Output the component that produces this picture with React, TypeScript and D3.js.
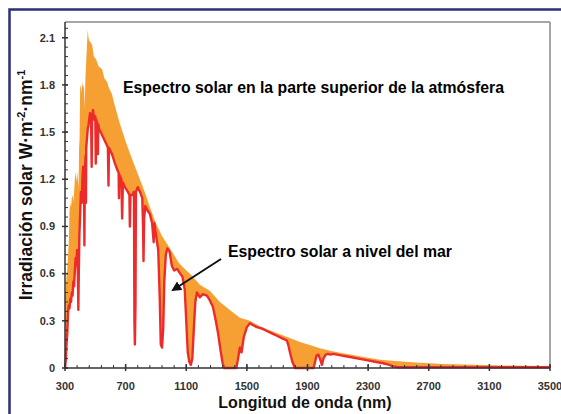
import * as d3 from "d3";

// Espectro fuera de la atmósfera (naranja)
const toaWavelength = [
  300, 305, 310, 315, 320, 325, 330, 335, 340, 345, 350, 355, 360, 365, 370, 375, 380, 385, 390, 393,
  396, 400, 405, 410, 415, 420, 425, 430, 435, 440, 445, 450, 455, 460, 470, 480, 490, 500, 510, 520,
  530, 545, 560, 577, 590, 610, 625, 643, 660, 680, 700, 730, 762, 790, 810, 830, 861, 900, 940, 993,
  1050, 1100, 1125, 1190, 1257, 1322, 1400, 1454, 1520, 1586, 1650, 1718, 1784, 1850, 1920, 1982,
  2050, 2114, 2200, 2290, 2378, 2500, 2642, 2800, 3000, 3200, 3500,
];
const toaIrradiance = [
  0.45, 0.5, 0.58, 0.62, 0.72, 0.8, 1.0, 1.05, 1.02, 1.08, 1.1, 1.05, 1.12, 1.2, 1.25, 1.18, 1.25, 1.2, 1.15, 1.4,
  1.45, 1.78, 1.8, 1.75, 1.82, 1.78, 1.8, 1.65, 1.85, 1.95, 2.05, 2.15, 2.1, 2.08, 2.07, 2.05, 1.98, 1.97, 1.95, 1.92,
  1.91, 1.9, 1.84, 1.82, 1.78, 1.74, 1.68, 1.62, 1.56, 1.5, 1.44, 1.36, 1.28, 1.21, 1.16, 1.11, 1.02, 0.92, 0.84, 0.76,
  0.67, 0.62, 0.6, 0.53, 0.49, 0.42, 0.36, 0.32, 0.3, 0.265, 0.24, 0.215, 0.19, 0.165, 0.145, 0.125,
  0.11, 0.097, 0.082, 0.066, 0.053, 0.043, 0.033, 0.026, 0.02, 0.016, 0.013,
];

// Espectro a nivel del mar (rojo)
const seaWavelength = [
  300, 305, 310, 315, 320, 325, 330, 335, 340, 345, 350, 355, 360, 365, 370, 375, 380, 385, 388, 391,
  395, 400, 405, 410, 415, 420, 425, 428, 431, 436, 438, 440, 450, 456, 465, 472, 476, 479, 485, 492,
  500, 503, 506, 515, 517, 519, 525, 535, 545, 560, 575, 583, 587, 590, 600, 610, 620, 630, 645, 654,
  656, 658, 672, 677, 682, 695, 715, 725, 728, 732, 745, 755, 758, 761, 765, 768, 780, 795, 810, 815,
  818, 822, 830, 845, 860, 875, 885, 890, 900, 915, 925, 932, 940, 948, 955, 965, 975, 990, 1005, 1020,
  1040, 1060, 1075, 1090, 1100, 1110, 1120, 1130, 1140, 1150, 1160, 1170, 1190, 1210, 1236, 1250, 1276, 1295, 1310, 1325,
  1340, 1350, 1430, 1440, 1454, 1465, 1480, 1500, 1520, 1545, 1566, 1600, 1632, 1665, 1698, 1730, 1764, 1775, 1784, 1800,
  1817, 1940, 1950, 1960, 1972, 1985, 1995, 2005, 2020, 2035, 2050, 2070, 2120, 2180, 2235, 2290, 2345, 2400, 2440, 2465,
  2500, 3500,
];
const seaIrradiance = [
  0.0, 0.05, 0.15, 0.22, 0.35, 0.4, 0.38, 0.44, 0.42, 0.48, 0.46, 0.55, 0.52, 0.62, 0.7, 0.66, 0.75, 0.6, 0.37, 0.6,
  0.85, 0.98, 1.12, 1.05, 1.2, 1.28, 1.2, 0.78, 1.25, 1.35, 1.05, 1.4, 1.52, 1.55, 1.62, 1.6, 1.28, 1.6, 1.64, 1.58,
  1.6, 1.3, 1.58, 1.55, 1.36, 1.55, 1.52, 1.5, 1.48, 1.45, 1.42, 1.4, 1.16, 1.4, 1.38, 1.36, 1.33, 1.3, 1.26, 1.24,
  1.08, 1.23, 1.2, 0.95, 1.18, 1.15, 1.12, 1.1, 0.9, 1.1, 1.1, 1.12, 0.3, 0.15, 0.4, 1.12, 1.15, 1.12, 1.08, 0.9,
  0.68, 0.95, 1.03, 1.0, 0.98, 0.92, 0.8, 0.92, 0.85, 0.75, 0.45, 0.15, 0.13, 0.25, 0.55, 0.72, 0.76, 0.74, 0.65, 0.62,
  0.63, 0.6, 0.58, 0.5, 0.3, 0.1, 0.04, 0.02, 0.06, 0.25, 0.42, 0.48, 0.45, 0.47, 0.46, 0.44, 0.39, 0.3, 0.22, 0.12,
  0.03, 0.0, 0.0, 0.05, 0.13, 0.1, 0.2, 0.26, 0.285, 0.27, 0.26, 0.25, 0.235, 0.22, 0.205, 0.19, 0.175, 0.14, 0.1, 0.04,
  0.0, 0.0, 0.04, 0.08, 0.085, 0.05, 0.02, 0.06, 0.085, 0.09, 0.085, 0.09, 0.08, 0.07, 0.06, 0.05, 0.04, 0.03, 0.02, 0.01,
  0.005, 0.005,
];

const xTicks = [300, 700, 1100, 1500, 1900, 2300, 2700, 3100, 3500];
const yTicks = [0, 0.3, 0.6, 0.9, 1.2, 1.5, 1.8, 2.1];

const W = 561;
const H = 414;
const m = { l: 65, r: 11, t: 22, b: 46 };

export default function App() {
  const x = d3.scaleLinear().domain([300, 3500]).range([m.l, W - m.r]);
  const y = d3.scaleLinear().domain([0, 2.2]).range([H - m.b, m.t]);

  const toa = toaWavelength.map((w, i) => [w, toaIrradiance[i]] as [number, number]);
  const sea = seaWavelength.map((w, i) => [w, seaIrradiance[i]] as [number, number]);

  const area = d3
    .area<[number, number]>()
    .x((d) => x(d[0]))
    .y0(y(0))
    .y1((d) => y(d[1]));
  const line = d3
    .line<[number, number]>()
    .x((d) => x(d[0]))
    .y((d) => y(d[1]));

  const xMinor = d3.range(300, 3500.1, 80);
  const yMinor = d3.range(0, 2.17, 0.06);
  const font = "Liberation Sans, Arial, sans-serif";

  return (
    <div style={{ position: "fixed", left: 0, top: 0 }}>
      <svg width={W} height={H} style={{ display: "block", background: "#fff" }}>
        <defs>
          <marker id="arrow" viewBox="0 0 10 10" refX="8" refY="5" markerWidth="5" markerHeight="5" orient="auto">
            <path d="M0,0 L10,5 L0,10 z" fill="#111" />
          </marker>
        </defs>
        {/* marco exterior */}
        <rect x={9.5} y={9.5} width={W + 10} height={H + 10} fill="none" stroke="#2a2f78" strokeWidth={2.5} />

        {/* series */}
        <path d={area(toa) ?? ""} fill="#f6a033" />
        <path d={area(sea) ?? ""} fill="#fff" />
        <path d={line(sea) ?? ""} fill="none" stroke="#ee2b2b" strokeWidth={2.4} strokeLinejoin="round" />

        {/* caja del gráfico */}
        <line x1={m.l} x2={W - m.r} y1={m.t} y2={m.t} stroke="#888" strokeWidth={1.5} />
        <line x1={W - m.r} x2={W - m.r} y1={m.t} y2={y(0)} stroke="#888" strokeWidth={1.5} />
        <line x1={m.l} x2={m.l} y1={m.t} y2={y(0)} stroke="#333" strokeWidth={1.5} />
        <line x1={m.l} x2={W - m.r} y1={y(0)} y2={y(0)} stroke="#333" strokeWidth={1.5} />

        {/* ticks eje y */}
        {yMinor.map((v, i) => (
          <line key={"ym" + i} x1={m.l} x2={m.l + 3} y1={y(v)} y2={y(v)} stroke="#333" strokeWidth={1} />
        ))}
        {yTicks.map((v) => (
          <g key={"y" + v}>
            <line x1={m.l - 3} x2={m.l + 3} y1={y(v)} y2={y(v)} stroke="#333" strokeWidth={1.5} />
            <text
              x={m.l - 10}
              y={y(v)}
              dy="0.35em"
              textAnchor="end"
              fontFamily={font}
              fontWeight="bold"
              fontSize={11}
              fill="#333"
            >
              {v === 0 ? "0" : v.toFixed(1)}
            </text>
          </g>
        ))}

        {/* ticks eje x */}
        {xMinor.map((v, i) => (
          <line key={"xm" + i} x1={x(v)} x2={x(v)} y1={y(0)} y2={y(0) - 3} stroke="#333" strokeWidth={1} />
        ))}
        {xTicks.map((v) => (
          <g key={"x" + v}>
            <line x1={x(v)} x2={x(v)} y1={y(0) + 3} y2={y(0) - 4} stroke="#333" strokeWidth={1.5} />
            <text
              x={x(v)}
              y={y(0) + 22}
              textAnchor="middle"
              fontFamily={font}
              fontWeight="bold"
              fontSize={11}
              fill="#333"
            >
              {v}
            </text>
          </g>
        ))}

        {/* títulos de ejes */}
        <text x={305} y={408} textAnchor="middle" fontFamily={font} fontWeight="bold" fontSize={16} fill="#111">
          Longitud de onda (nm)
        </text>
        <text
          transform="translate(32,185) rotate(-90)"
          textAnchor="middle"
          fontFamily={font}
          fontWeight="bold"
          fontSize={17.5}
          fill="#111"
        >
          Irradiación solar W·m
          <tspan dy={-7} fontSize={11}>-2</tspan>
          <tspan dy={7}>·nm</tspan>
          <tspan dy={-7} fontSize={11}>-1</tspan>
        </text>

        {/* anotaciones */}
        <text x={123} y={93} fontFamily={font} fontWeight="bold" fontSize={15.8} fill="#000">
          Espectro solar en la parte superior de la atmósfera
        </text>
        <text x={228} y={257} fontFamily={font} fontWeight="bold" fontSize={15.8} fill="#000">
          Espectro solar a nivel del mar
        </text>
        <line x1={221} y1={259} x2={173} y2={290} stroke="#111" strokeWidth={2} markerEnd="url(#arrow)" />
      </svg>
    </div>
  );
}
